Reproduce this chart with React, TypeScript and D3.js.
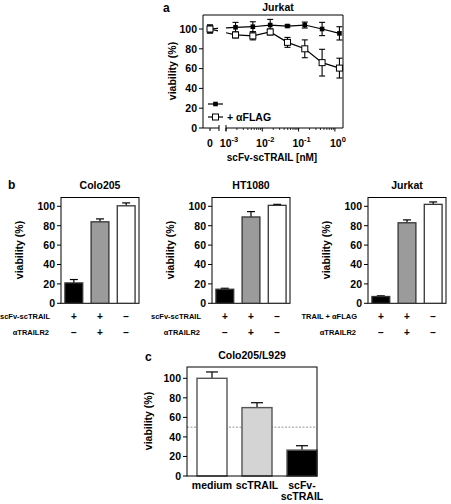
import React from "react";
import * as d3 from "d3";

// ---------- data ----------
const concNM = [0.00183, 0.00549, 0.0165, 0.0494, 0.148, 0.444, 1.333];
const jurkatPlain = [101.7, 102.3, 104, 103, 104, 100, 95.6];
const jurkatPlainErr = [5, 5, 5.7, 1, 3, 6.7, 6.7];
const jurkatFlag = [94, 93, 97, 86.5, 80, 66, 60.5];
const jurkatFlagErr = [3, 4, 3, 5, 9, 13.5, 10];
const zeroPlain = 100;
const zeroFlag = 100;
const zeroErr = 4;
const yTicks = [0, 20, 40, 60, 80, 100];
const decadeTicks = [1e-3, 1e-2, 1e-1, 1];
const decadeExp = ["-3", "-2", "-1", "0"];

const barTitles = ["Colo205", "HT1080", "Jurkat"];
const barValues = [
  [21, 84, 100.5],
  [14.5, 89, 101],
  [7, 83, 102],
];
const barErrors = [
  [3.5, 3, 3],
  [1, 5.5, 1],
  [0.7, 3, 2.5],
];
const row1Labels = ["scFv-scTRAIL", "scFv-scTRAIL", "TRAIL + αFLAG"];
const row2Label = "αTRAILR2";
const row1Signs = ["+", "+", "−"];
const row2Signs = ["−", "+", "−"];
const barFills = ["#000000", "#9b9b9b", "#ffffff"];

const cCategories = ["medium", "scTRAIL", "scFv-scTRAIL"];
const cValues = [100, 70, 26.5];
const cErrors = [6.5, 5, 4.5];
const cFills = ["#ffffff", "#d4d4d4", "#000000"];
const cThreshold = 50;

const FONT = "'Liberation Sans', Arial, Helvetica, sans-serif";

function YAxis({ y, x }: { y: d3.ScaleLinear<number, number>; x: number }) {
  return (
    <g>
      {yTicks.map((t) => (
        <g key={t}>
          <line x1={x - 4} x2={x} y1={y(t)} y2={y(t)} stroke="#000" strokeWidth={1} />
          <text x={x - 6} y={y(t) + 3.8} textAnchor="end" fontSize={10.5} fontWeight="bold" fontFamily={FONT}>
            {t}
          </text>
        </g>
      ))}
    </g>
  );
}

function YLabel({ x, y }: { x: number; y: number }) {
  return (
    <text
      transform={`translate(${x},${y}) rotate(-90)`}
      textAnchor="middle"
      fontSize={10.5}
      fontWeight="bold"
      fontFamily={FONT}
    >
      viability (%)
    </text>
  );
}

function PanelA() {
  const left = 203, right = 343, top = 15, bottom = 128;
  const zeroX = 210;
  const breakL = 219, breakR = 226;
  const y = d3.scaleLinear().domain([0, 100]).range([bottom, 29]);
  const x = d3.scaleLog().domain([1e-3, Math.pow(10, (right - breakR) / 36.3 - 3)]).range([breakR, right]);

  const minor: number[] = [];
  for (let e = -3; e <= 0; e++) {
    for (let m = 2; m <= 9; m++) {
      const v = m * Math.pow(10, e);
      if (v < x.domain()[1]) minor.push(v);
    }
  }

  const line = d3.line<[number, number]>().x((d) => d[0]).y((d) => d[1]);

  const stubs = (v0: number, v1: number) => {
    const x0 = zeroX, y0 = y(v0), x1 = x(concNM[0]), y1 = y(v1);
    const at = (xx: number) => y0 + ((y1 - y0) * (xx - x0)) / (x1 - x0);
    return [
      line([[x0, y0], [breakL - 1, at(breakL - 1)]]) as string,
      line([[breakR, at(breakR)], [x1, y1]]) as string,
    ];
  };

  const series = [
    { vals: jurkatPlain, errs: jurkatPlainErr, zero: zeroPlain, open: false },
    { vals: jurkatFlag, errs: jurkatFlagErr, zero: zeroFlag, open: true },
  ];

  return (
    <g>
      <text x={163} y={12} fontSize={12} fontWeight="bold" fontFamily={FONT}>a</text>
      <text x={278} y={11} textAnchor="middle" fontSize={10.5} fontWeight="bold" fontFamily={FONT}>Jurkat</text>
      {/* frame */}
      <line x1={left} x2={right} y1={top} y2={top} stroke="#000" />
      <line x1={right} x2={right} y1={top} y2={bottom} stroke="#000" />
      <line x1={left} x2={left} y1={top} y2={bottom} stroke="#000" />
      <line x1={left} x2={breakL} y1={bottom} y2={bottom} stroke="#000" />
      <line x1={breakR} x2={right} y1={bottom} y2={bottom} stroke="#000" />
      <line x1={breakL} x2={breakL} y1={bottom - 3} y2={bottom + 3} stroke="#000" />
      <line x1={breakR} x2={breakR} y1={bottom - 3} y2={bottom + 3} stroke="#000" />
      <YAxis y={y} x={left} />
      <YLabel x={176} y={71} />
      {/* x ticks */}
      <line x1={zeroX} x2={zeroX} y1={bottom} y2={bottom + 3} stroke="#000" />
      <text x={zeroX} y={147} textAnchor="middle" fontSize={10.5} fontWeight="bold" fontFamily={FONT}>0</text>
      {decadeTicks.map((t, i) => (
        <g key={t}>
          <line x1={x(t)} x2={x(t)} y1={bottom} y2={bottom + 3.5} stroke="#000" />
          <text x={x(t) + 3} y={147} textAnchor="middle" fontSize={10.5} fontWeight="bold" fontFamily={FONT}>
            10
            <tspan dy={-5} fontSize={7.5}>{decadeExp[i]}</tspan>
          </text>
        </g>
      ))}
      {minor.map((t) => (
        <line key={t} x1={x(t)} x2={x(t)} y1={bottom} y2={bottom + 2} stroke="#000" strokeWidth={0.8} />
      ))}
      <text x={272} y={161} textAnchor="middle" fontSize={10} fontWeight="bold" fontFamily={FONT}>scFv-scTRAIL [nM]</text>
      {/* series */}
      {series.map((s, si) => {
        const pts: [number, number][] = s.vals.map((v, i) => [x(concNM[i]), y(v)]);
        const [st1, st2] = stubs(s.zero, s.vals[0]);
        return (
          <g key={si}>
            <path d={st1} fill="none" stroke="#000" strokeWidth={1.2} />
            <path d={st2} fill="none" stroke="#000" strokeWidth={1.2} />
            <path d={line(pts) as string} fill="none" stroke="#000" strokeWidth={1.2} />
            {s.vals.map((v, i) => (
              <g key={i}>
                <line x1={pts[i][0]} x2={pts[i][0]} y1={y(v - s.errs[i])} y2={y(v + s.errs[i])} stroke="#000" strokeWidth={1.1} />
                <line x1={pts[i][0] - 3} x2={pts[i][0] + 3} y1={y(v - s.errs[i])} y2={y(v - s.errs[i])} stroke="#000" strokeWidth={1.1} />
                <line x1={pts[i][0] - 3} x2={pts[i][0] + 3} y1={y(v + s.errs[i])} y2={y(v + s.errs[i])} stroke="#000" strokeWidth={1.1} />
              </g>
            ))}
            {/* zero point */}
            <line x1={zeroX} x2={zeroX} y1={y(s.zero - zeroErr)} y2={y(s.zero + zeroErr)} stroke="#000" strokeWidth={1.1} />
            <line x1={zeroX - 3} x2={zeroX + 3} y1={y(s.zero - zeroErr)} y2={y(s.zero - zeroErr)} stroke="#000" strokeWidth={1.1} />
            <line x1={zeroX - 3} x2={zeroX + 3} y1={y(s.zero + zeroErr)} y2={y(s.zero + zeroErr)} stroke="#000" strokeWidth={1.1} />
            {[[zeroX, y(s.zero)] as [number, number], ...pts].map((p, i) =>
              s.open ? (
                <rect key={i} x={p[0] - 3} y={p[1] - 3} width={6} height={6} fill="#fff" stroke="#000" strokeWidth={1} />
              ) : (
                <rect key={i} x={p[0] - 2.3} y={p[1] - 2.3} width={4.6} height={4.6} fill="#000" />
              )
            )}
          </g>
        );
      })}
      {/* legend */}
      <line x1={208} x2={223} y1={104} y2={104} stroke="#000" strokeWidth={1.2} />
      <rect x={213.2} y={101.7} width={4.6} height={4.6} fill="#000" />
      <line x1={208} x2={223} y1={117} y2={117} stroke="#000" strokeWidth={1.2} />
      <rect x={212.5} y={114} width={6} height={6} fill="#fff" stroke="#000" />
      <text x={227} y={121} fontSize={10.5} fontWeight="bold" fontFamily={FONT}>+ αFLAG</text>
    </g>
  );
}

function BarSubplot({ idx, x0 }: { idx: number; x0: number }) {
  const w = 78, top = 197.5, bottom = 303.3;
  const y = d3.scaleLinear().domain([0, 100]).range([bottom, 206.3]);
  const xb = d3.scaleBand<number>().domain([0, 1, 2]).range([x0, x0 + w]).paddingInner(0.32).paddingOuter(0.15);
  const bw = xb.bandwidth();
  return (
    <g>
      <text x={x0 + w / 2} y={189} textAnchor="middle" fontSize={10.5} fontWeight="bold" fontFamily={FONT}>{barTitles[idx]}</text>
      <rect x={x0} y={top} width={w} height={bottom - top} fill="none" stroke="#000" />
      {barValues[idx].map((v, i) => {
        const bx = xb(i) as number;
        const e = barErrors[idx][i];
        const cx = bx + bw / 2;
        return (
          <g key={i}>
            <line x1={cx} x2={cx} y1={y(v)} y2={y(v + e)} stroke="#000" strokeWidth={1.2} />
            <line x1={cx - 4} x2={cx + 4} y1={y(v + e)} y2={y(v + e)} stroke="#000" strokeWidth={1.2} />
            <rect x={bx} y={y(v)} width={bw} height={bottom - y(v)} fill={barFills[i]} stroke="#333" strokeWidth={1.3} />
          </g>
        );
      })}
      <YAxis y={y} x={x0} />
      <YLabel x={x0 - 38} y={250} />
      <text x={x0 - 11} y={319} textAnchor="end" fontSize={7.5} fontWeight="bold" fontFamily={FONT}>{row1Labels[idx]}</text>
      <text x={x0 - 12} y={335} textAnchor="end" fontSize={7.5} fontWeight="bold" fontFamily={FONT}>{row2Label}</text>
      {[0, 1, 2].map((i) => (
        <g key={i}>
          <text x={(xb(i) as number) + bw / 2} y={320} textAnchor="middle" fontSize={10} fontWeight="bold" fontFamily={FONT}>{row1Signs[i]}</text>
          <text x={(xb(i) as number) + bw / 2} y={336} textAnchor="middle" fontSize={10} fontWeight="bold" fontFamily={FONT}>{row2Signs[i]}</text>
        </g>
      ))}
    </g>
  );
}

function PanelC() {
  const left = 187, right = 317, top = 367, bottom = 476;
  const y = d3.scaleLinear().domain([0, 100]).range([bottom, 378.3]);
  const xb = d3.scaleBand<string>().domain(cCategories).range([left, right]).paddingInner(0.333).paddingOuter(0.111).align(1);
  const bw = xb.bandwidth();
  return (
    <g>
      <text x={145} y={361} fontSize={12} fontWeight="bold" fontFamily={FONT}>c</text>
      <text x={252} y={359} textAnchor="middle" fontSize={10.5} fontWeight="bold" fontFamily={FONT}>Colo205/L929</text>
      <line x1={left} x2={right} y1={y(cThreshold)} y2={y(cThreshold)} stroke="#777" strokeWidth={0.8} strokeDasharray="2,1.5" />
      {cCategories.map((c, i) => {
        const bx = xb(c) as number;
        const v = cValues[i];
        const e = cErrors[i];
        const cx = bx + bw / 2;
        return (
          <g key={c}>
            <line x1={cx} x2={cx} y1={y(v)} y2={y(v + e)} stroke="#000" strokeWidth={1.2} />
            <line x1={cx - 6} x2={cx + 6} y1={y(v + e)} y2={y(v + e)} stroke="#000" strokeWidth={1.2} />
            <rect x={bx} y={y(v)} width={bw} height={bottom - y(v)} fill={cFills[i]} stroke="#555" strokeWidth={1.4} />
          </g>
        );
      })}
      <rect x={left} y={top} width={right - left} height={bottom - top} fill="none" stroke="#000" />
      <YAxis y={y} x={left} />
      <YLabel x={152} y={421} />
      {cCategories.map((c) => {
        const cx = (xb(c) as number) + bw / 2;
        const parts = c === "scFv-scTRAIL" ? ["scFv-", "scTRAIL"] : [c];
        return (
          <text key={c} x={cx} y={489} textAnchor="middle" fontSize={10.5} fontWeight="bold" fontFamily={FONT}>
            {parts.map((p, k) => (
              <tspan key={k} x={cx} dy={k === 0 ? 0 : 11}>{p}</tspan>
            ))}
          </text>
        );
      })}
    </g>
  );
}

export default function App() {
  const subX = [61, 212, 368];
  return (
    <svg width={451} height={504} style={{ position: "absolute", left: 0, top: 0, background: "#fff" }}>
      <rect width={451} height={504} fill="#fff" />
      <PanelA />
      <text x={8} y={189} fontSize={12} fontWeight="bold" fontFamily={FONT}>b</text>
      {subX.map((x0, i) => (
        <BarSubplot key={i} idx={i} x0={x0} />
      ))}
      <PanelC />
    </svg>
  );
}
